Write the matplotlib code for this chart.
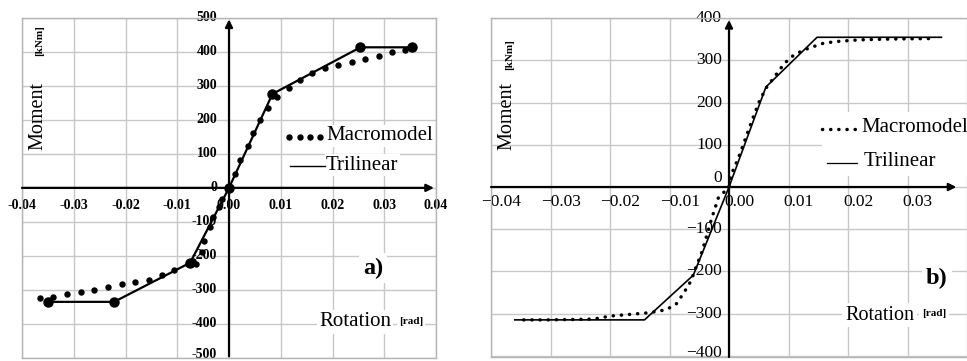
"""
Moment-rotation curves: macromodel vs trilinear fit, two panels a) and b).
"""

import matplotlib
matplotlib.use("Agg")
import matplotlib.pyplot as plt
from matplotlib.patches import Rectangle

plt.rcParams["font.family"] = ["Liberation Serif", "DejaVu Serif"]

# ---- data, panel a ----
tri_a_x = [-0.0350, -0.0222, -0.0075, 0.0, 0.0084, 0.0254, 0.0353]
tri_a_y = [-335, -335, -220, 0, 276, 413, 413]
macro_a_x = [-0.0365, -0.0350, -0.0340, -0.0313, -0.0286, -0.0260, -0.0233, -0.0207,
             -0.0181, -0.0155, -0.0130, -0.0106, -0.0080, -0.0070, -0.0063, -0.0053,
             -0.0048, -0.0037, -0.0030, -0.0020, -0.0014, 0.0, 0.0012, 0.0021, 0.0036,
             0.0047, 0.0059, 0.0076, 0.0084, 0.0093, 0.0115, 0.0137, 0.0161, 0.0186,
             0.0211, 0.0237, 0.0263, 0.0289, 0.0315, 0.0340, 0.0355]
macro_a_y = [-325, -335, -322, -312, -306, -300, -292, -284,
             -277, -270, -257, -241, -225, -215, -224, -189,
             -155, -116, -87, -57, -33, 0, 40, 81, 123,
             162, 199, 235, 276, 267, 293, 318, 337, 352,
             362, 371, 380, 388, 398, 405, 413]

# ---- data, panel b ----
tri_b_x = [-0.0360, -0.0142, -0.0060, 0.0, 0.0062, 0.0148, 0.0357]
tri_b_y = [-315, -315, -209, 0, 237, 355, 355]
macro_b_x = [-0.0345, -0.0300, -0.0260, -0.0227, -0.0200, -0.0167, -0.0134, -0.0106,
             -0.0089, -0.0076, -0.0064, -0.0056, -0.0045, -0.0037, -0.0029, -0.0018,
             0.0, 0.0004, 0.0018, 0.0029, 0.0040, 0.0051, 0.0062, 0.0079, 0.0093,
             0.0109, 0.0126, 0.0142, 0.0159, 0.0181, 0.0220, 0.0280, 0.0340]
macro_b_y = [-315, -315, -314, -313, -306, -302, -298, -291,
             -278, -251, -223, -192, -152, -113, -74, -26,
             0, 30, 77, 120, 163, 203, 234, 266, 293,
             313, 325, 333, 341, 345, 349, 351, 352]

x_ticks = [-0.04, -0.03, -0.02, -0.01, 0.0, 0.01, 0.02, 0.03, 0.04]
y_ticks_a = [-500, -400, -300, -200, -100, 0, 100, 200, 300, 400, 500]
y_ticks_b = [-400, -300, -200, -100, 0, 100, 200, 300, 400]

W, H = 967, 361
fig = plt.figure(figsize=(W / 100, H / 100), dpi=100)
fig.patch.set_facecolor("white")

DOTS = (0, (0.05, 2.3))  # round-capped dots for the macromodel in panel b


def fx(px):
    return px / W


def fy(py):
    return 1 - py / H


def base_axes(rect, xlim, ylim, yticks):
    ax = fig.add_axes(rect)
    ax.set_xlim(*xlim)
    ax.set_ylim(*ylim)
    ax.set_xticks(x_ticks)
    ax.set_yticks(yticks)
    ax.tick_params(length=0, labelbottom=False, labelleft=False)
    ax.set_axisbelow(True)
    ax.grid(True, color="#c8c8c8", linewidth=1.0)
    for s in ax.spines.values():
        s.set_color("#b4b4b4")
        s.set_linewidth(1.0)
    # zero axes with arrows
    arrow = dict(arrowstyle="-|>", color="black", lw=1.6, mutation_scale=11, shrinkA=0, shrinkB=0)
    ax.annotate("", xy=(xlim[1] * 0.99, 0), xytext=(xlim[0], 0), arrowprops=arrow, zorder=3)
    ax.annotate("", xy=(0, ylim[1] * 0.99), xytext=(0, ylim[0]), arrowprops=arrow, zorder=3)
    return ax


def label_box(ax, x, y, text, size, weight="normal", pad=2):
    ax.text(fx(x), fy(y), text, transform=fig.transFigure, fontsize=size, fontweight=weight,
            ha="left", va="center", zorder=4,
            bbox=dict(facecolor="white", edgecolor="none", pad=pad))


# ================= panel a =================
ax = base_axes([fx(22), fy(358), fx(436) - fx(22), fy(17.7) - fy(358)],
               (-0.04, 0.04), (-495, 500), y_ticks_a)

ax.plot(tri_a_x, tri_a_y, color="black", lw=1.6, marker="o", ms=6.5, zorder=5)
ax.plot(macro_a_x, macro_a_y, ls="none", color="black", marker="o", ms=3.6, zorder=5)

for t in x_ticks:
    ax.annotate(f"{t:.2f}", xy=(t, 0), xytext=(0, -12.5), textcoords="offset points",
                ha="center", va="center", fontsize=10, fontweight="bold", zorder=2,
                annotation_clip=False)
for v in y_ticks_a:
    dy = 2.5 if v == -500 else 0
    ax.annotate(f"{v}", xy=(0, v), xytext=(-8.5, dy), textcoords="offset points",
                ha="right", va="center", fontsize=10, fontweight="bold", zorder=2,
                annotation_clip=False)

# axis titles
fig.text(fx(38), fy(116), "Moment", rotation=90, ha="center", va="center", fontsize=14.5)
fig.text(fx(40), fy(41), "[kNm]", rotation=90, ha="center", va="center", fontsize=8,
         fontweight="bold")
ax.text(fx(319), fy(322), "Rotation", transform=fig.transFigure, fontsize=15, ha="left",
        va="center", zorder=4, bbox=dict(facecolor="white", edgecolor="none", pad=1.5))
ax.text(fx(399), fy(321), "[rad]", transform=fig.transFigure, fontsize=8, fontweight="bold",
        ha="left", va="center", zorder=4, bbox=dict(facecolor="white", edgecolor="none", pad=1.5))
label_box(ax, 363, 268, "a)", 17.5, "bold", pad=3)

# legend
ax.plot([fx(p) for p in (289, 299.5, 310, 320)], [fy(137)] * 4, transform=fig.transFigure,
        ls="none", marker="o", ms=3.6, color="black", clip_on=False, zorder=5)
label_box(ax, 326, 136, "Macromodel", 15, pad=1)
ax.plot([fx(290), fx(325)], [fy(166.5)] * 2, transform=fig.transFigure, color="black",
        lw=1.0, clip_on=False, zorder=5)
label_box(ax, 326, 165, "Trilinear", 15, pad=1)

# ================= panel b =================
bx = base_axes([fx(491), fy(357), 1 - fx(491), fy(18.3) - fy(357)],
               (-0.04, 0.0386), (-403, 400), y_ticks_b)
bx.spines["right"].set_visible(False)

# white patch behind legend
bx.add_patch(Rectangle((fx(822), fy(176)), fx(967) - fx(822), fy(112) - fy(176),
                       transform=fig.transFigure, facecolor="white", edgecolor="none", zorder=1))

bx.plot(tri_b_x, tri_b_y, color="black", lw=1.2, zorder=5)
bx.plot(macro_b_x, macro_b_y, color="black", lw=2.5, ls=DOTS,
        dash_capstyle="round", zorder=5)

for t in x_ticks[:-1]:
    s = f"{t:.2f}".replace("-", "\u2212")
    bx.annotate(s, xy=(t, 0), xytext=(7.5, -10.5), textcoords="offset points",
                ha="center", va="center", fontsize=12.5, zorder=2, annotation_clip=False)
for v in y_ticks_b:
    s = f"{v}".replace("-", "\u2212")
    dy = {0: 6.5, -400: 2.0}.get(v, 0)
    bx.annotate(s, xy=(0, v), xytext=(-5, dy), textcoords="offset points",
                ha="right", va="center", fontsize=12.5, zorder=2, annotation_clip=False)

fig.text(fx(507), fy(116), "Moment", rotation=90, ha="center", va="center", fontsize=14.5)
fig.text(fx(510), fy(55), "[kNm]", rotation=90, ha="center", va="center", fontsize=8,
         fontweight="bold")
bx.text(fx(845), fy(315), "Rotation", transform=fig.transFigure, fontsize=14.5, ha="left",
        va="center", zorder=4, bbox=dict(facecolor="white", edgecolor="none", pad=2))
bx.text(fx(922), fy(314), "[rad]", transform=fig.transFigure, fontsize=8, fontweight="bold",
        ha="left", va="center", zorder=4, bbox=dict(facecolor="white", edgecolor="none", pad=2))
label_box(bx, 926, 278, "b)", 17.5, "bold", pad=3)

bx.plot([fx(822), fx(855)], [fy(128.5)] * 2, transform=fig.transFigure, color="black",
        lw=2.5, ls=DOTS, dash_capstyle="round", clip_on=False, zorder=5)
bx.text(fx(861), fy(127), "Macromodel", transform=fig.transFigure, fontsize=15,
        ha="left", va="center", zorder=5)
bx.plot([fx(827), fx(857)], [fy(163)] * 2, transform=fig.transFigure, color="black",
        lw=0.9, clip_on=False, zorder=5)
bx.text(fx(864), fy(161), "Trilinear", transform=fig.transFigure, fontsize=15,
        ha="left", va="center", zorder=5)

fig.savefig("out.png", dpi=100, facecolor="white")
plt.close(fig)
